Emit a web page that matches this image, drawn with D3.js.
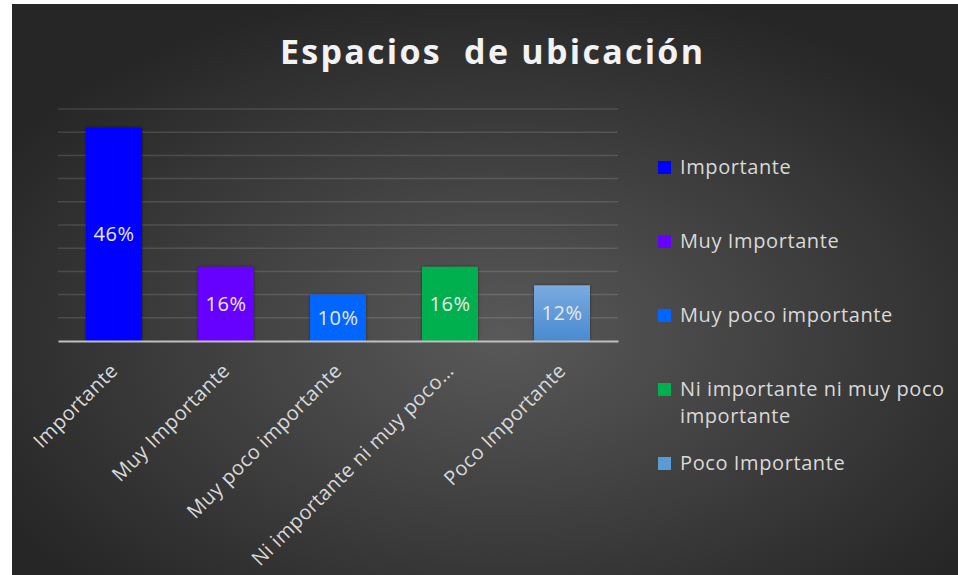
<!DOCTYPE html>
<html><head><meta charset="utf-8">
<script src="https://cdn.jsdelivr.net/npm/d3@7"></script>
<style>
html,body{margin:0;padding:0;background:#fff;}
svg{display:block;}
text{font-family:"Open Sans",sans-serif;}
</style></head>
<body>
<svg id="chart" width="958" height="575"></svg>
<script>
const categories = ["Importante","Muy Importante","Muy poco importante","Ni importante ni muy poco importante","Poco Importante"];
const tickLabels = ["Importante","Muy Importante","Muy poco importante","Ni importante ni muy poco…","Poco Importante"];
const values = [46,16,10,16,12];
const valueLabels = ["46%","16%","10%","16%","12%"];
const legendLines = [["Importante"],["Muy Importante"],["Muy poco importante"],["Ni importante ni muy poco","importante"],["Poco Importante"]];
const colors = ["#0000FF","#6600FF","#0066FF","#00B050","url(#pocoGrad)"];
const legendColors = ["#0000FF","#6600FF","#0066FF","#00B050","#5B9BD5"];
const yTicks = [0,5,10,15,20,25,30,35,40,45,50];
const title = "Espacios  de ubicación";

const svg = d3.select("#chart");
const defs = svg.append("defs");
const bg = defs.append("radialGradient").attr("id","bgGrad")
  .attr("cx","52%").attr("cy","58%").attr("r","62%");
bg.append("stop").attr("offset","0%").attr("stop-color","#595959");
bg.append("stop").attr("offset","100%").attr("stop-color","#262626");
const pg = defs.append("linearGradient").attr("id","pocoGrad").attr("x1",0).attr("y1",0).attr("x2",0).attr("y2",1);
pg.append("stop").attr("offset","0%").attr("stop-color","#79ABE0");
pg.append("stop").attr("offset","100%").attr("stop-color","#4A8AD0");
const sh = defs.append("filter").attr("id","shadow").attr("x","-20%").attr("y","-20%").attr("width","140%").attr("height","140%");
sh.append("feDropShadow").attr("dx",0).attr("dy",0).attr("stdDeviation",1.5).attr("flood-color","#000").attr("flood-opacity",0.5);

svg.append("rect").attr("x",12).attr("y",4).attr("width",946).attr("height",571).attr("fill","url(#bgGrad)");

const x = d3.scaleBand().domain(categories).range([58,618]).paddingInner(0.5).paddingOuter(0.25);
const y = d3.scaleLinear().domain([0,50]).range([341,109]);

// gridlines
svg.append("g").selectAll("line").data(yTicks.filter(d=>d>0)).join("line")
  .attr("x1",58).attr("x2",618).attr("y1",d=>y(d)).attr("y2",d=>y(d))
  .attr("stroke","#ffffff").attr("stroke-opacity",0.13).attr("stroke-width",1.5);

// bars
svg.append("g").selectAll("rect").data(values).join("rect")
  .attr("x",(d,i)=>x(categories[i])).attr("width",x.bandwidth())
  .attr("y",d=>y(d)).attr("height",d=>y(0)-y(d))
  .attr("fill",(d,i)=>colors[i]).attr("filter","url(#shadow)");

// value labels
svg.append("g").selectAll("text").data(values).join("text")
  .attr("x",(d,i)=>x(categories[i])+x.bandwidth()/2)
  .attr("y",d=>(y(d)+y(0))/2)
  .attr("dy","0.35em").attr("text-anchor","middle")
  .attr("font-size",20).attr("letter-spacing","0.6px").attr("fill","#E8E8E8")
  .text((d,i)=>valueLabels[i]);

// x axis
const xAxis = d3.axisBottom(x).tickSize(0).tickSizeOuter(0).tickFormat((d,i)=>tickLabels[i]);
const gx = svg.append("g").attr("transform",`translate(0,${y(0)})`).call(xAxis);
gx.select(".domain").attr("stroke","#BFBFBF").attr("stroke-width",2);
gx.selectAll("text").attr("x",0).attr("y",0).attr("dy",0)
  .attr("transform","translate(5,31) rotate(-45)")
  .attr("text-anchor","end").attr("font-size",20).attr("letter-spacing","0.4px").attr("fill","#D9D9D9")
  .attr("font-family","Open Sans");

// title
svg.append("text").attr("x",280).attr("y",64).attr("font-size",34).attr("font-weight",700)
  .attr("fill","#F2F2F2").attr("textLength",423).attr("lengthAdjust","spacing")
  .style("white-space","pre").text(title);

// legend
const lg = svg.append("g");
const item = lg.selectAll("g").data(categories).join("g")
  .attr("transform",(d,i)=>`translate(658,${174+i*74})`);
item.append("rect").attr("x",0).attr("y",-13).attr("width",13).attr("height",13)
  .attr("fill",(d,i)=>legendColors[i]);
item.append("text").attr("x",22).attr("y",0).attr("font-size",20).attr("letter-spacing","0.6px").attr("fill","#D9D9D9")
  .selectAll("tspan").data((d,i)=>legendLines[i]).join("tspan")
  .attr("x",22).attr("dy",(d,j)=>j===0?0:27).text(d=>d);
</script>
</body></html>
